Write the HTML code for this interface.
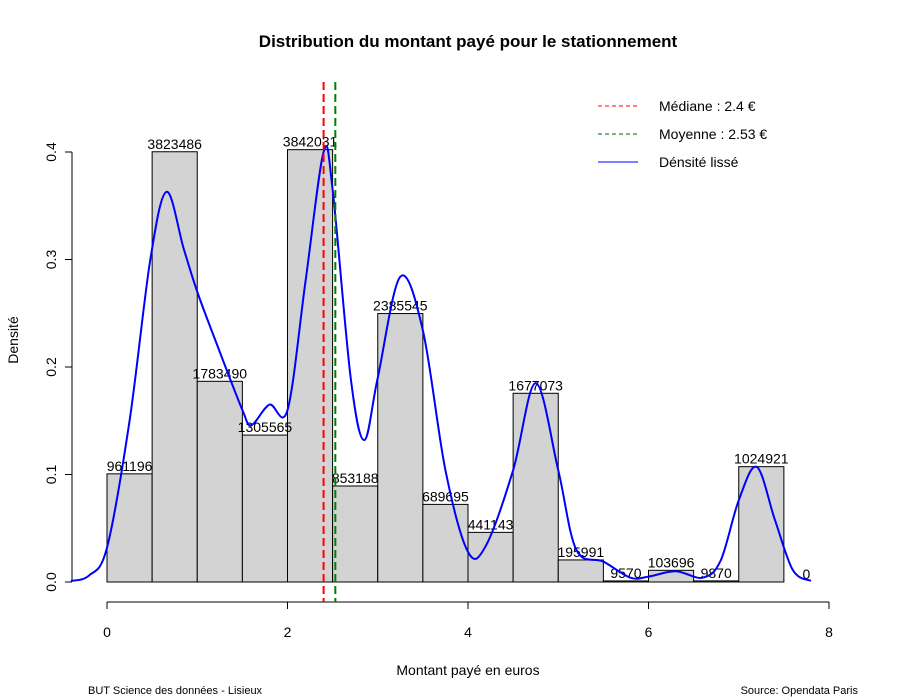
<!DOCTYPE html>
<html><head><meta charset="utf-8"><style>
html,body{margin:0;padding:0;background:#fff}
svg{display:block;font-family:"Liberation Sans",Arial,sans-serif}
</style></head><body>
<svg id="chart" width="900" height="700" viewBox="0 0 900 700">
<text x="468" y="47" text-anchor="middle" font-size="17" font-weight="bold">Distribution du montant payé pour le stationnement</text>
<text x="468" y="675" text-anchor="middle" font-size="14">Montant payé en euros</text>
<text transform="translate(18,340) rotate(-90)" text-anchor="middle" font-size="14">Densité</text>
<text x="88" y="694" font-size="11">BUT Science des données - Lisieux</text>
<text x="858" y="694" font-size="11" text-anchor="end">Source: Opendata Paris</text>
<g id="bars"></g>
<g id="labels"></g>
<g id="axes"></g>
<path id="dens" fill="none" stroke="#0000ff" stroke-width="2"/>
<g id="vlines"></g>
<g>
<line x1="598" y1="106" x2="638" y2="106" stroke="#ff0000" stroke-dasharray="4,3"/>
<text x="659" y="111" font-size="14">Médiane : 2.4 €</text>
<line x1="598" y1="134" x2="638" y2="134" stroke="#006400" stroke-dasharray="4,3"/>
<text x="659" y="139" font-size="14">Moyenne : 2.53 €</text>
<line x1="598" y1="162" x2="638" y2="162" stroke="#0000ff"/>
<text x="659" y="167" font-size="14">Dénsité lissé</text>
</g>
</svg>
<script>
const binStarts = [0,0.5,1,1.5,2,2.5,3,3.5,4,4.5,5,5.5,6,6.5,7,7.5];
const counts = [961196,3823486,1783490,1305565,3842031,853188,2385545,689695,441143,1677073,195991,9570,103696,9870,1024921,0];
const densX = [-0.4,-0.2,0,0.25,0.48,0.66,0.85,1.0,1.2,1.5,1.6,1.8,2.0,2.2,2.4,2.5,2.7,2.85,3.0,3.25,3.5,3.75,4.0,4.2,4.5,4.75,5.0,5.2,5.5,5.8,6.0,6.3,6.6,6.8,7.0,7.2,7.4,7.6,7.8];
const densY = [0.001,0.006,0.032,0.15,0.30,0.363,0.31,0.27,0.225,0.16,0.146,0.165,0.16,0.28,0.40,0.365,0.19,0.132,0.19,0.284,0.234,0.104,0.028,0.034,0.104,0.185,0.104,0.03,0.019,0.004,0.005,0.01,0.004,0.02,0.076,0.107,0.058,0.011,0.001];
const xTicks = [0,2,4,6,8];
const yTicks = [0,0.1,0.2,0.3,0.4];
const median = 2.4, mean = 2.53, binW = 0.5;

const NS="http://www.w3.org/2000/svg";
const sx = v => 107 + v*90.25;
const sy = v => 582 - v*1075;
const total = counts.reduce((a,b)=>a+b,0);
function mk(tag, attrs, parent){const e=document.createElementNS(NS,tag);for(const k in attrs)e.setAttribute(k,attrs[k]);parent.appendChild(e);return e;}
const bars=document.getElementById('bars'), labels=document.getElementById('labels'), axes=document.getElementById('axes');
binStarts.forEach((b,i)=>{
  const d = counts[i]/(total*binW);
  const r = mk('rect',{x:sx(b),y:sy(d),width:sx(b+binW)-sx(b),height:sy(0)-sy(d),fill:'#d3d3d3',stroke:'#000','stroke-width':1},bars);
  
  
  const t = mk('text',{x:(sx(b)+sx(b+binW))/2,y:sy(d)-3,'text-anchor':'middle','font-size':14},labels);
  t.textContent = counts[i];
  
  
});
// x axis
mk('line',{x1:sx(0),y1:602,x2:sx(8),y2:602,stroke:'#000'},axes);
xTicks.forEach(v=>{
  mk('line',{x1:sx(v),y1:602,x2:sx(v),y2:609,stroke:'#000'},axes);
  const t=mk('text',{x:sx(v),y:637,'text-anchor':'middle','font-size':14},axes);
  t.textContent=v;
  
  
});
// y axis
mk('line',{x1:72,y1:sy(0),x2:72,y2:sy(0.4),stroke:'#000'},axes);
yTicks.forEach(v=>{
  mk('line',{x1:72,y1:sy(v),x2:65,y2:sy(v),stroke:'#000'},axes);
  const t=mk('text',{'text-anchor':'middle','font-size':14,transform:`translate(56,${sy(v)}) rotate(-90)`},axes);
  t.textContent=v.toFixed(1);
  
  
});
// density (Catmull-Rom)
const pts = densX.map((x,i)=>[sx(x),sy(densY[i])]);
let d = `M${pts[0][0]},${pts[0][1]}`;
for(let i=0;i<pts.length-1;i++){
  const p0=pts[Math.max(0,i-1)],p1=pts[i],p2=pts[i+1],p3=pts[Math.min(pts.length-1,i+2)];
  const c1=[p1[0]+(p2[0]-p0[0])/6,p1[1]+(p2[1]-p0[1])/6];
  const c2=[p2[0]-(p3[0]-p1[0])/6,p2[1]-(p3[1]-p1[1])/6];
  d+=` C${c1[0]},${c1[1]} ${c2[0]},${c2[1]} ${p2[0]},${p2[1]}`;
}
document.getElementById('dens').setAttribute('d',d);
const vl=document.getElementById('vlines');
const m1=mk('line',{x1:sx(median),y1:82,x2:sx(median),y2:602,stroke:'#ff0000','stroke-width':2,'stroke-dasharray':'8,4'},vl);


const m2=mk('line',{x1:sx(mean),y1:82,x2:sx(mean),y2:602,stroke:'#008000','stroke-width':2,'stroke-dasharray':'8,4'},vl);


</script>
</body></html>
